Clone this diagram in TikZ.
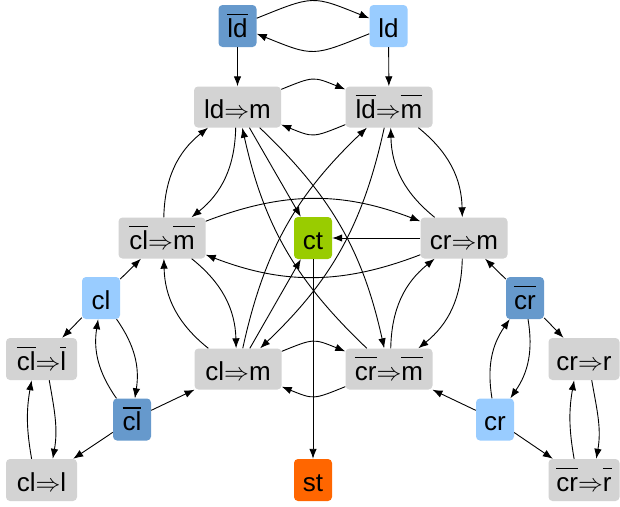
\documentclass[tikz,border=0pt]{standalone}
\usepackage{fontspec}
\setmainfont{Liberation Sans}
\usetikzlibrary{arrows.meta}
\definecolor{gbox}{HTML}{D3D3D3}
\definecolor{lblue}{HTML}{99CCFF}
\definecolor{dblue}{HTML}{6699CC}
\definecolor{cgreen}{HTML}{99CC00}
\definecolor{corange}{HTML}{FF6600}
\newlength\obw
\newcommand{\ob}[1]{\settowidth{\obw}{#1}\makebox[0pt][l]{\rule[0.84em]{\obw}{0.05em}}#1}
\newcommand{\ra}{$\Rightarrow$}
\begin{document}
\begin{tikzpicture}[x=1pt,y=-1pt,
  box/.style={rounded corners=4pt, inner sep=0pt, text=black,
    font=\fontsize{26}{30}\selectfont, text height=25pt, text depth=3pt},
  wide/.style={box, fill=gbox, minimum width=87pt, minimum height=41pt},
  mid/.style={box, fill=gbox, minimum width=71pt, minimum height=42pt},
  sm/.style={box, minimum width=38pt, minimum height=42pt},
  e/.style={-{Latex[length=10pt,width=7.5pt]}, line width=0.9pt},
]
\path[use as bounding box] (0,0) rectangle (620,506);
% top
\node[sm, fill=dblue] (ldb) at (237.5,26) {\ob{ld}};
\node[sm, fill=lblue] (ld) at (388.5,26) {ld};
\node[wide] (ldm) at (237.5,107) {ld\ra m};
\node[wide] (ldbm) at (389,107) {\ob{ld}\ra\ob{m}};
% middle
\node[wide] (clbm) at (162,238) {\ob{cl}\ra\ob{m}};
\node[sm, fill=cgreen] (ct) at (313,238) {ct};
\node[wide] (crm) at (464,238) {cr\ra m};
\node[wide] (clm) at (238,369) {cl\ra m};
\node[wide] (crbm) at (389,369) {\ob{cr}\ra\ob{m}};
\node[sm, fill=corange] (st) at (313,480) {st};
% left cluster
\node[sm, fill=lblue] (cl) at (101,298) {cl};
\node[sm, fill=dblue] (clb) at (132,419.5) {\ob{cl}};
\node[mid] (clbl) at (41.5,359) {\ob{cl}\ra\ob{l}};
\node[mid] (cll) at (41.5,480) {cl\ra l};
% right cluster
\node[sm, fill=dblue] (crb) at (525,298) {\ob{cr}};
\node[sm, fill=lblue] (cr) at (495,419.5) {cr};
\node[mid] (crr) at (584,359) {cr\ra r};
\node[mid] (crbr) at (584,480) {\ob{cr}\ra\ob{r}};

% top edges
\draw[e] (ldb) to[bend left=22, looseness=1.4] (ld);
\draw[e] (ld) to[bend left=22, looseness=1.4] (ldb);
\draw[e] (ldb) -- (ldm);
\draw[e] (ld) -- (ldbm);
\draw[e] (ldm) to[bend left=22, looseness=1.4] (ldbm);
\draw[e] (ldbm) to[bend left=22, looseness=1.4] (ldm);
\draw[e] (clm) to[bend left=22, looseness=1.4] (crbm);
\draw[e] (crbm) to[bend left=22, looseness=1.4] (clm);
\draw[e] (clbm) to[bend left=21] (crm);
\draw[e] (crm) to[bend left=21] (clbm);
% triangle sides
\draw[e] (clbm) to[bend left=25] (ldm);
\draw[e] (ldm) to[bend left=25] (clbm);
\draw[e] (ldbm) to[bend left=25] (crm);
\draw[e] (crm) to[bend left=25] (ldbm);
\draw[e] (clbm) to[bend left=25] (clm);
\draw[e] (clm) to[bend left=25] (clbm);
\draw[e] (crm) to[bend left=25] (crbm);
\draw[e] (crbm) to[bend left=25] (crm);
% long diagonals
\draw[e] (ldm) to[bend left=17] (crbm);
\draw[e] (crbm) to[bend left=17] (ldm);
\draw[e] (clm) to[bend left=17] (ldbm);
\draw[e] (ldbm) to[bend left=17] (clm);
% center
\draw[e] (ldm) -- (ct);
\draw[e] (clm) -- (ct);
\draw[e] (crm) -- (ct);
\draw[e] (ct) -- (st);
% left cluster
\draw[e] (cl) -- (clbm);
\draw[e] (cl) -- (clbl);
\draw[e] (cl) to[bend left=22] (clb);
\draw[e] (clb) to[bend left=22] (cl);
\draw[e] (clb) -- (clm);
\draw[e] (clb) -- (cll);
\draw[e] (clbl.-70) to[out=-80, in=80] (cll.62);
\draw[e] (cll.115) to[out=100, in=-100] (clbl.-115);
% right cluster
\draw[e] (crb) -- (crm);
\draw[e] (crb) -- (crr);
\draw[e] (crb) to[bend left=22] (cr);
\draw[e] (cr) to[bend left=22] (crb);
\draw[e] (cr) -- (crbm);
\draw[e] (cr) -- (crbr);
\draw[e] (crr.-70) to[out=-80, in=80] (crbr.60);
\draw[e] (crbr.115) to[out=100, in=-100] (crr.-115);
\end{tikzpicture}
\end{document}
